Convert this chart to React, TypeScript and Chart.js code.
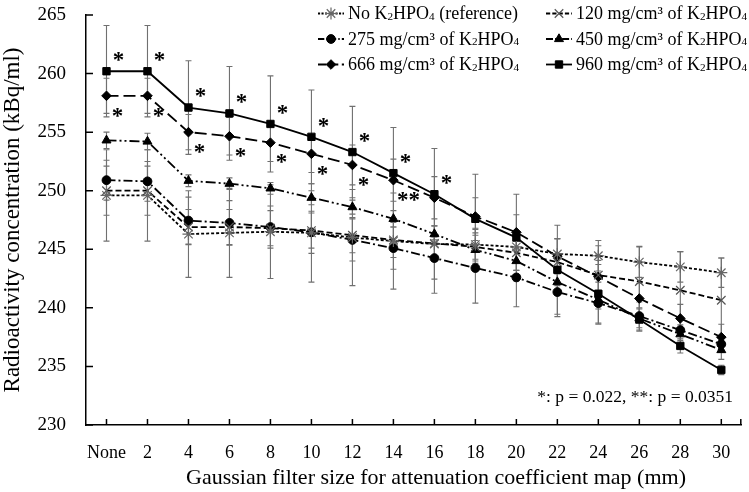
import React, { useEffect, useRef } from "react";
import { Chart, registerables } from "chart.js";
import { drawPoint } from "chart.js/helpers";

Chart.register(...registerables);

const FONT = '"Liberation Serif", "Times New Roman", Times, serif';

const categories = ["None", "2", "4", "6", "8", "10", "12", "14", "16", "18", "20", "22", "24", "26", "28", "30"];

const refValues = [249.6, 249.6, 246.3, 246.4, 246.5, 246.4, 246.0, 245.7, 245.45, 245.4, 245.2, 244.6, 244.45, 243.9, 243.5, 243.0];
const refErrors = [3.9, 3.9, 3.7, 3.8, 4.0, 4.2, 4.1, 4.1, 4.2, 1.4, 1.3, 1.3, 1.3, 1.3, 1.3, 1.25];

const k120Values = [250.0, 250.0, 246.9, 246.9, 246.8, 246.6, 246.2, 245.8, 245.5, 245.2, 244.7, 243.9, 242.8, 242.25, 241.5, 240.65];
const k120Errors = [2.1, 2.1, 1.5, 1.5, 1.5, 1.5, 1.5, 1.5, 1.5, 1.5, 1.5, 2.0, 2.5, 3.0, 3.3, 3.6];

const k275Values = [250.9, 250.8, 247.45, 247.25, 246.9, 246.45, 245.8, 245.1, 244.25, 243.4, 242.6, 241.35, 240.4, 239.3, 238.1, 236.9];
const k275Errors = [1.7, 1.7, 2.0, 1.9, 1.8, 1.8, 1.8, 1.8, 1.8, 3.0, 2.5, 2.1, 1.8, 1.2, 0.9, 0.7];

const k450Values = [254.3, 254.2, 250.85, 250.6, 250.2, 249.4, 248.6, 247.6, 246.3, 244.95, 244.0, 242.2, 240.7, 239.1, 237.75, 236.4];
const k450Errors = [0.7, 0.7, 0.5, 0.5, 0.5, 0.6, 0.6, 0.7, 0.7, 0.8, 0.8, 0.8, 0.8, 0.8, 0.8, 0.8];

const k666Values = [258.1, 258.1, 255.0, 254.65, 254.1, 253.15, 252.2, 250.9, 249.4, 247.8, 246.45, 244.4, 242.65, 240.8, 239.1, 237.5];
const k666Errors = [1.5, 1.5, 1.5, 1.6, 1.6, 1.6, 1.7, 1.8, 1.8, 1.6, 1.5, 1.5, 1.4, 1.3, 1.2, 1.1];

const k960Values = [260.2, 260.2, 257.1, 256.6, 255.7, 254.6, 253.3, 251.5, 249.7, 247.6, 246.0, 243.25, 241.2, 239.0, 236.75, 234.7];
const k960Errors = [3.9, 3.9, 4.0, 4.0, 4.1, 4.0, 3.9, 3.9, 3.9, 3.8, 3.7, 3.8, 2.5, 1.0, 0.6, 0.4];

// significance marks per category (empty = none)
const sig960Labels = ["*", "*", "*", "*", "*", "*", "*", "*", "*", "", "", "", "", "", "", ""];
const sig666Labels = ["*", "*", "*", "*", "*", "*", "*", "**", "", "", "", "", "", "", "", ""];

const seriesLabels = [
  "No K₂HPO₄ (reference)",
  "120 mg/cm³ of K₂HPO₄",
  "275 mg/cm³ of K₂HPO₄",
  "450 mg/cm³ of K₂HPO₄",
  "666 mg/cm³ of K₂HPO₄",
  "960 mg/cm³ of K₂HPO₄",
];

const yTitle = "Radioactivity concentration (kBq/ml)";
const xTitle = "Gaussian filter size for attenuation coefficient map (mm)";
const pNote = "*: p = 0.022, **: p = 0.0351";

const Y_MIN = 230;
const Y_MAX = 265;
const Y_STEP = 5;

type Style = {
  dash: number[];
  pointStyle: string;
  radius: number;
  fill: string;
  stroke: string;
  borderWidth: number;
};

const styles: Style[] = [
  { dash: [3, 2], pointStyle: "star", radius: 6, fill: "#666", stroke: "#666", borderWidth: 1.2 },
  { dash: [6, 3], pointStyle: "crossRot", radius: 6, fill: "#555", stroke: "#555", borderWidth: 1.2 },
  { dash: [9, 3, 2, 3], pointStyle: "circle", radius: 4.4, fill: "#000", stroke: "#000", borderWidth: 1 },
  { dash: [10, 3, 2, 3, 2, 3], pointStyle: "triangle", radius: 5.2, fill: "#000", stroke: "#000", borderWidth: 1 },
  { dash: [12, 5], pointStyle: "rectRot", radius: 4.8, fill: "#000", stroke: "#000", borderWidth: 1 },
  { dash: [], pointStyle: "rect", radius: 5.2, fill: "#000", stroke: "#000", borderWidth: 1 },
];

const valuesList = [refValues, k120Values, k275Values, k450Values, k666Values, k960Values];
const errorsList = [refErrors, k120Errors, k275Errors, k450Errors, k666Errors, k960Errors];

const SUBS: Record<string, string> = {
  "₀": "0", "₁": "1", "₂": "2", "₃": "3", "₄": "4", "₅": "5", "₆": "6", "₇": "7", "₈": "8", "₉": "9",
};

function drawRich(ctx: CanvasRenderingContext2D, text: string, x: number, y: number, size: number) {
  let cx = x;
  let buf = "";
  const flush = () => {
    if (!buf) return;
    ctx.font = `${size}px ${FONT}`;
    ctx.fillText(buf, cx, y);
    cx += ctx.measureText(buf).width;
    buf = "";
  };
  for (const ch of text) {
    if (SUBS[ch]) {
      flush();
      const s = size * 0.62;
      ctx.font = `${s}px ${FONT}`;
      ctx.fillText(SUBS[ch], cx, y + size * 0.12);
      cx += ctx.measureText(SUBS[ch]).width;
    } else {
      buf += ch;
    }
  }
  flush();
}

const errorBarPlugin = {
  id: "errorBars",
  beforeDatasetsDraw(chart: any) {
    const ctx = chart.ctx as CanvasRenderingContext2D;
    const xs = chart.scales.x;
    const ys = chart.scales.y;
    ctx.save();
    ctx.strokeStyle = "#707070";
    ctx.lineWidth = 1.1;
    ctx.setLineDash([]);
    errorsList.forEach((errs, di) => {
      const vals = valuesList[di];
      vals.forEach((v, i) => {
        const e = errs[i];
        if (!e) return;
        const px = xs.getPixelForValue(i);
        const top = ys.getPixelForValue(v + e);
        const bot = ys.getPixelForValue(v - e);
        ctx.beginPath();
        ctx.moveTo(px, top);
        ctx.lineTo(px, bot);
        ctx.moveTo(px - 3, top);
        ctx.lineTo(px + 3, top);
        ctx.moveTo(px - 3, bot);
        ctx.lineTo(px + 3, bot);
        ctx.stroke();
      });
    });
    ctx.restore();
  },
};

const annotationPlugin = {
  id: "annotations",
  afterDraw(chart: any) {
    const ctx = chart.ctx as CanvasRenderingContext2D;
    const xs = chart.scales.x;
    const ys = chart.scales.y;
    const area = chart.chartArea;
    ctx.save();
    ctx.setLineDash([]);

    // inward tick marks
    ctx.strokeStyle = "#000";
    ctx.lineWidth = 1.5;
    ctx.beginPath();
    categories.forEach((_, i) => {
      const px = xs.getPixelForValue(i);
      ctx.moveTo(px, area.bottom);
      ctx.lineTo(px, area.bottom - 6);
    });
    ctx.moveTo(area.right - 1, area.bottom);
    ctx.lineTo(area.right - 1, area.bottom - 6);
    for (let v = Y_MIN; v <= Y_MAX; v += Y_STEP) {
      const py = ys.getPixelForValue(v);
      ctx.moveTo(area.left, py);
      ctx.lineTo(area.left + 7, py);
    }
    ctx.stroke();

    // axis titles
    ctx.fillStyle = "#000";
    ctx.textAlign = "center";
    ctx.textBaseline = "middle";
    ctx.font = `22px ${FONT}`;
    ctx.fillText(xTitle, 436, 478);
    ctx.save();
    ctx.translate(13, 220);
    ctx.rotate(-Math.PI / 2);
    ctx.font = `23px ${FONT}`;
    ctx.fillText(yTitle, 0, 0);
    ctx.restore();

    // significance marks
    ctx.textAlign = "center";
    ctx.textBaseline = "alphabetic";
    const starSize = 23;
    ctx.font = `bold ${starSize}px ${FONT}`;
    sig960Labels.forEach((lab, i) => {
      if (!lab) return;
      const px = xs.getPixelForValue(i) + 12;
      const py = ys.getPixelForValue(k960Values[i]) - 15;
      ctx.fillText(lab, px, py + starSize * 0.47);
    });
    sig666Labels.forEach((lab, i) => {
      if (!lab) return;
      const w = lab.length > 1 ? 4 : 0;
      const px = xs.getPixelForValue(i) + 11 + w;
      const py = ys.getPixelForValue(k666Values[i]) + 16;
      ctx.fillText(lab, px, py + starSize * 0.47);
    });

    // p-value note
    ctx.textAlign = "right";
    ctx.textBaseline = "middle";
    ctx.font = `17.5px ${FONT}`;
    ctx.fillText(pNote, 733, 397);

    // legend
    const cols = [318, 546];
    const rows = [13.5, 39, 64.5];
    ctx.textAlign = "left";
    ctx.textBaseline = "middle";
    seriesLabels.forEach((lab, i) => {
      const st = styles[i];
      const x0 = cols[i % 2];
      const y0 = rows[Math.floor(i / 2)];
      ctx.strokeStyle = "#000";
      ctx.lineWidth = 1.8;
      ctx.setLineDash(st.dash.length ? st.dash.map((d) => d * 0.7) : []);
      ctx.beginPath();
      ctx.moveTo(x0, y0);
      ctx.lineTo(x0 + 26, y0);
      ctx.stroke();
      ctx.setLineDash([]);
      ctx.fillStyle = st.fill;
      ctx.strokeStyle = st.stroke;
      ctx.lineWidth = st.borderWidth;
      drawPoint(ctx, { pointStyle: st.pointStyle as any, rotation: 0, radius: st.radius, borderWidth: st.borderWidth }, x0 + 13, y0);
      ctx.fillStyle = "#000";
      drawRich(ctx, lab, x0 + 30, y0 + 1, 18);
    });

    ctx.restore();
  },
};

export default function App() {
  const canvasRef = useRef<HTMLCanvasElement | null>(null);

  useEffect(() => {
    document.body.style.margin = "0";
    const canvas = canvasRef.current;
    if (!canvas) return;

    const datasets = valuesList.map((vals, i) => {
      const st = styles[i];
      return {
        label: seriesLabels[i],
        data: vals,
        borderColor: "#000",
        borderWidth: 1.8,
        borderDash: st.dash,
        pointStyle: st.pointStyle as any,
        pointRadius: st.radius,
        pointBackgroundColor: st.fill,
        pointBorderColor: st.stroke,
        pointBorderWidth: st.borderWidth,
        fill: false,
        tension: 0,
      };
    });

    const chart = new Chart(canvas, {
      type: "line",
      data: { labels: categories, datasets },
      options: {
        animation: false,
        responsive: true,
        maintainAspectRatio: false,
        layout: { padding: { top: 15, right: 1, left: 0, bottom: 0 } },
        plugins: { legend: { display: false }, tooltip: { enabled: false } },
        scales: {
          x: {
            type: "category",
            offset: true,
            grid: { display: true, drawOnChartArea: false, drawTicks: false },
            border: { display: true, color: "#000", width: 1.5 },
            ticks: { color: "#000", font: { family: FONT, size: 18 }, padding: 17, maxRotation: 0, autoSkip: false },
            afterFit: (s: any) => {
              s.height = 67;
              s.paddingLeft = 0;
              s.paddingRight = 0;
            },
          },
          y: {
            min: Y_MIN,
            max: Y_MAX,
            grid: { display: true, drawOnChartArea: false, drawTicks: false },
            border: { display: true, color: "#000", width: 1.5 },
            ticks: { stepSize: Y_STEP, color: "#000", font: { family: FONT, size: 19 }, padding: 20 },
            afterFit: (s: any) => {
              s.width = 86;
              s.paddingTop = 0;
              s.paddingBottom = 0;
            },
          },
        },
      },
      plugins: [errorBarPlugin, annotationPlugin],
    });

    return () => chart.destroy();
  }, []);

  return (
    <div style={{ width: 749, height: 492, position: "relative" }}>
      <canvas ref={canvasRef} />
    </div>
  );
}
